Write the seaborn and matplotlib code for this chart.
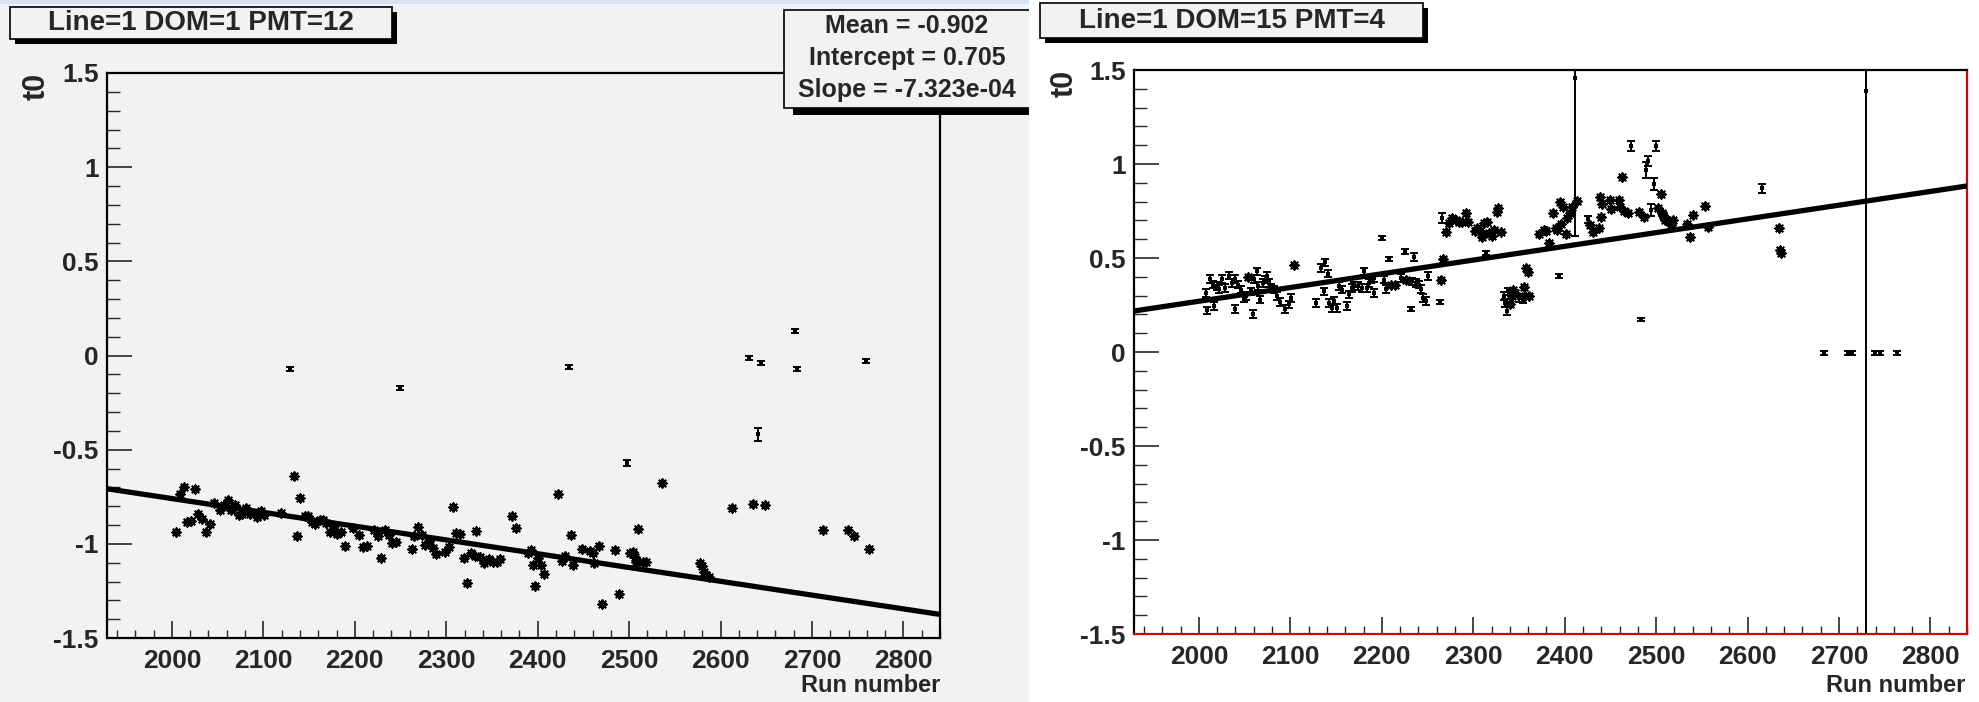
import numpy as np
import matplotlib
matplotlib.use("Agg")
import matplotlib.pyplot as plt
from matplotlib.patches import Rectangle
from matplotlib.ticker import MultipleLocator, FuncFormatter
import seaborn as sns

# ---- left panel: Line=1 DOM=1 PMT=12 ----
left_title = "Line=1 DOM=1 PMT=12"
left_star_run = [2005, 2009, 2013, 2017, 2021, 2025, 2029, 2033, 2037, 2042, 2046, 2053, 2057, 2061,
                 2065, 2069, 2073, 2077, 2081, 2085, 2093, 2097, 2101, 2119, 2133, 2137, 2140, 2145,
                 2149, 2153, 2157, 2162, 2165, 2169, 2173, 2177, 2181, 2185, 2189, 2198, 2205, 2209,
                 2213, 2221, 2225, 2229, 2233, 2237, 2241, 2245, 2263, 2265, 2269, 2273, 2277, 2281,
                 2285, 2289, 2299, 2303, 2307, 2311, 2315, 2319, 2323, 2327, 2331, 2333, 2337, 2341,
                 2347, 2351, 2355, 2359, 2372, 2376, 2389, 2393, 2395, 2397, 2400, 2404, 2407, 2422,
                 2427, 2430, 2436, 2439, 2448, 2457, 2460, 2462, 2467, 2470, 2485, 2489, 2501, 2504,
                 2506, 2508, 2510, 2515, 2518, 2536, 2578, 2580, 2582, 2584, 2587, 2613, 2635, 2649,
                 2712, 2739, 2746, 2762]
left_star_t0 = [-0.936, -0.735, -0.699, -0.885, -0.881, -0.708, -0.844, -0.866, -0.935, -0.894, -0.784,
                -0.818, -0.795, -0.768, -0.823, -0.796, -0.848, -0.841, -0.811, -0.844, -0.857, -0.825,
                -0.848, -0.834, -0.641, -0.958, -0.756, -0.850, -0.850, -0.885, -0.894, -0.871, -0.871,
                -0.888, -0.935, -0.906, -0.949, -0.936, -1.009, -0.915, -0.954, -1.016, -1.009, -0.929,
                -0.961, -1.076, -0.928, -0.952, -0.996, -0.991, -1.025, -0.956, -0.908, -0.952, -1.004,
                -0.986, -1.023, -1.053, -1.042, -1.016, -0.805, -0.943, -0.950, -1.076, -1.209, -1.051,
                -1.062, -0.933, -1.071, -1.104, -1.081, -1.094, -1.099, -1.081, -0.851, -0.917, -1.051,
                -1.034, -1.115, -1.225, -1.074, -1.115, -1.159, -0.735, -1.089, -1.065, -0.952, -1.115,
                -1.030, -1.039, -1.048, -1.101, -1.012, -1.322, -1.035, -1.264, -1.051, -1.042, -1.069,
                -1.094, -0.919, -1.094, -1.094, -0.678, -1.104, -1.119, -1.150, -1.165, -1.177, -0.812,
                -0.791, -0.795, -0.929, -0.929, -0.956, -1.030]
left_err_run = [2129, 2249, 2434, 2498, 2631, 2641, 2644, 2681, 2684, 2759]
left_err_t0 = [-0.073, -0.172, -0.062, -0.570, -0.014, -0.419, -0.041, 0.129, -0.071, -0.027]
left_err_err = [0.011, 0.011, 0.011, 0.015, 0.011, 0.033, 0.011, 0.011, 0.011, 0.011]
left_mean = -0.902
left_intercept = 0.705
left_slope = -7.323e-04

# ---- right panel: Line=1 DOM=15 PMT=4 ----
right_title = "Line=1 DOM=15 PMT=4"
right_star_run = [2054, 2104, 2210, 2214, 2227, 2265, 2267, 2270, 2273, 2277, 2281, 2284, 2288, 2292,
                  2294, 2302, 2304, 2307, 2310, 2312, 2315, 2317, 2320, 2323, 2326, 2327, 2330, 2340,
                  2342, 2344, 2346, 2355, 2357, 2358, 2360, 2361, 2372, 2377, 2380, 2383, 2387, 2391,
                  2392, 2395, 2396, 2398, 2401, 2403, 2406, 2408, 2414, 2428, 2431, 2438, 2439, 2440,
                  2441, 2450, 2451, 2459, 2461, 2463, 2465, 2469, 2481, 2487, 2502, 2505, 2506, 2508,
                  2510, 2514, 2516, 2519, 2534, 2537, 2540, 2553, 2557, 2634, 2636, 2637]
right_star_t0 = [0.398, 0.465, 0.359, 0.359, 0.385, 0.385, 0.495, 0.636, 0.686, 0.712, 0.700, 0.694,
                 0.689, 0.742, 0.689, 0.645, 0.659, 0.641, 0.611, 0.686, 0.694, 0.633, 0.615, 0.650,
                 0.747, 0.765, 0.636, 0.253, 0.297, 0.332, 0.314, 0.346, 0.297, 0.447, 0.424, 0.297,
                 0.629, 0.650, 0.641, 0.580, 0.742, 0.658, 0.650, 0.799, 0.680, 0.773, 0.627, 0.711,
                 0.737, 0.773, 0.805, 0.675, 0.640, 0.657, 0.826, 0.720, 0.787, 0.808, 0.759, 0.808,
                 0.773, 0.932, 0.750, 0.737, 0.746, 0.716, 0.764, 0.840, 0.737, 0.728, 0.702, 0.698,
                 0.675, 0.702, 0.680, 0.613, 0.728, 0.776, 0.666, 0.657, 0.542, 0.528]
right_err_run = [2008, 2009, 2012, 2015, 2017, 2020, 2022, 2025, 2028, 2033, 2036, 2039, 2040, 2043,
                 2046, 2049, 2052, 2057, 2059, 2060, 2063, 2065, 2067, 2070, 2072, 2075, 2077, 2079,
                 2082, 2085, 2089, 2094, 2099, 2101, 2128, 2133, 2137, 2138, 2141, 2142, 2145, 2148,
                 2151, 2153, 2157, 2162, 2164, 2167, 2170, 2174, 2178, 2180, 2184, 2186, 2188, 2191,
                 2192, 2200, 2202, 2205, 2208, 2221, 2225, 2232, 2233, 2235, 2237, 2241, 2243, 2245,
                 2248, 2250, 2264, 2266, 2314, 2334, 2335, 2337, 2338, 2350, 2354, 2394, 2411, 2425,
                 2472, 2483, 2489, 2491, 2494, 2498, 2500, 2616, 2684, 2710, 2714, 2730, 2739, 2745,
                 2763]
right_err_t0 = [0.314, 0.221, 0.389, 0.359, 0.244, 0.350, 0.336, 0.389, 0.341, 0.406, 0.367, 0.230,
                0.389, 0.359, 0.332, 0.288, 0.297, 0.323, 0.203, 0.389, 0.429, 0.350, 0.279, 0.367,
                0.385, 0.403, 0.367, 0.341, 0.332, 0.297, 0.265, 0.230, 0.253, 0.288, 0.261, 0.447,
                0.323, 0.477, 0.417, 0.261, 0.235, 0.270, 0.235, 0.350, 0.332, 0.244, 0.306, 0.341,
                0.350, 0.350, 0.341, 0.429, 0.341, 0.367, 0.385, 0.314, 0.394, 0.606, 0.385, 0.336,
                0.496, 0.394, 0.535, 0.230, 0.376, 0.505, 0.367, 0.359, 0.336, 0.288, 0.270, 0.403,
                0.265, 0.712, 0.527, 0.297, 0.261, 0.217, 0.323, 0.288, 0.279, 0.406, 1.455, 0.705,
                1.095, 0.173, 0.968, 1.017, 0.755, 0.893, 1.095, 0.870, -0.004, -0.004, -0.004, 1.390,
                -0.004, -0.004, -0.004]
right_err_err = [0.02] * 57 + [0.01, 0.02, 0.02, 0.01, 0.02, 0.015, 0.01, 0.02, 0.02, 0.02, 0.02,
                                0.02, 0.02, 0.02, 0.02, 0.01, 0.025, 0.01, 0.02, 0.02, 0.02, 0.02,
                                0.02, 0.02, 0.01, 0.838, 0.02, 0.025, 0.01, 0.045, 0.025, 0.03, 0.03,
                                0.025, 0.025, 0.01, 0.01, 0.01, 3.0, 0.01, 0.01, 0.01]
right_intercept = -1.19
right_slope = 7.3e-04

W, H = 1979, 702
XLIM = (1929, 2840)
YLIM = (-1.5, 1.5)
GRAY = "#f2f2f2"

sns.set_style("ticks")
plt.rcParams["font.family"] = ["Liberation Sans", "DejaVu Sans"]
plt.rcParams["font.weight"] = "bold"


def fx(x):
    return x / W


def fy(y):
    return 1 - y / H


def fig_rect(fig, x0, y0, x1, y1, z, **kw):
    r = Rectangle((fx(x0), fy(y1)), fx(x1) - fx(x0), fy(y0) - fy(y1),
                  transform=fig.transFigure, zorder=z, **kw)
    fig.add_artist(r)


def title_box(fig, x0, y0, x1, y1, text):
    fig_rect(fig, x0 + 5, y0 + 5, x1 + 5, y1 + 5, 6, facecolor="black", edgecolor="none")
    fig_rect(fig, x0, y0, x1, y1, 7, facecolor=GRAY, edgecolor="black", linewidth=1.2)
    fig.text(fx((x0 + x1) / 2), fy((y0 + y1) / 2), text, ha="center", va="center",
             fontsize=20, fontweight="bold", zorder=8)


def draw_panel(ax, star_run, star_t0, err_run, err_t0, err_err, intercept, slope):
    sns.scatterplot(x=star_run, y=star_t0, marker=(8, 2, 0), s=38, color="black",
                    linewidth=1.4, ax=ax, zorder=3)
    ax.errorbar(err_run, err_t0, yerr=err_err, fmt="none", ecolor="black",
                elinewidth=1.4, capsize=3.2, capthick=1.4, zorder=3)
    sns.scatterplot(x=err_run, y=err_t0, marker="s", s=8, color="black",
                    linewidth=0, ax=ax, zorder=3)
    fit_x = np.array(XLIM, dtype=float)
    sns.lineplot(x=fit_x, y=intercept + slope * fit_x, color="black", linewidth=3.8,
                 ax=ax, zorder=4)
    ax.set_xlim(*XLIM)
    ax.set_ylim(*YLIM)
    ax.xaxis.set_major_locator(MultipleLocator(100))
    ax.xaxis.set_minor_locator(MultipleLocator(20))
    ax.yaxis.set_major_locator(MultipleLocator(0.5))
    ax.yaxis.set_minor_locator(MultipleLocator(0.1))
    ax.yaxis.set_major_formatter(FuncFormatter(lambda v, p: "%g" % v))
    ax.tick_params(axis="x", which="major", direction="in", length=12, width=1.2,
                   labelsize=19, pad=8)
    ax.tick_params(axis="x", which="minor", direction="in", length=6, width=1.0)
    ax.tick_params(axis="y", which="major", direction="in", length=18, width=1.2,
                   labelsize=19, pad=6)
    ax.tick_params(axis="y", which="minor", direction="in", length=9, width=1.0)
    for lab in ax.get_xticklabels() + ax.get_yticklabels():
        lab.set_fontweight("bold")
    ax.set_xlabel("")
    ax.set_ylabel("")
    for s in ax.spines.values():
        s.set_visible(True)
        s.set_linewidth(1.6)
        s.set_color("black")


fig = plt.figure(figsize=(W / 100, H / 100), dpi=100)
fig.patch.set_facecolor("white")

# left pad background and screenshot strip
fig_rect(fig, 0, 0, 1029, H, -5, facecolor=GRAY, edgecolor="none")
fig_rect(fig, 0, 0, 1029, 4, -4, facecolor="#d8e3f2", edgecolor="none")

ax1 = fig.add_axes([fx(107), fy(638), fx(940) - fx(107), fy(73) - fy(638)])
ax1.set_facecolor(GRAY)
ax1.set_zorder(0)
draw_panel(ax1, left_star_run, left_star_t0, left_err_run, left_err_t0, left_err_err,
           left_intercept, left_slope)

# stats box (cut off by the right pad)
fig_rect(fig, 793, 108, 1040, 115, 1, facecolor="black", edgecolor="none")
fig_rect(fig, 784, 10, 1040, 108, 1.1, facecolor=GRAY, edgecolor="black", linewidth=1.2)
stats = ["Mean = %.3f" % left_mean, "Intercept = %.3f" % left_intercept,
         "Slope = %.3e" % left_slope]
for i, line in enumerate(stats):
    fig.text(fx(907), fy(26 + 32 * i), line, ha="center", va="center", fontsize=18,
             fontweight="bold", zorder=1.2)

# right pad
fig_rect(fig, 1029, 0, W, H, 2, facecolor="white", edgecolor="none")
ax2 = fig.add_axes([fx(1134), fy(634), fx(1967) - fx(1134), fy(70) - fy(634)])
ax2.set_facecolor("white")
ax2.set_zorder(3)
draw_panel(ax2, right_star_run, right_star_t0, right_err_run, right_err_t0, right_err_err,
           right_intercept, right_slope)
ax2.spines["bottom"].set_color("#d40000")
ax2.spines["right"].set_color("#d40000")

title_box(fig, 10, 7, 392, 39, left_title)
title_box(fig, 1040, 3, 1423, 38, right_title)

for x_t0, y_t0 in [(37, 86), (1065, 83)]:
    fig.text(fx(x_t0), fy(y_t0), "t0", rotation=90, ha="center", va="center",
             fontsize=22, fontweight="bold", zorder=8)
for x_rn in [940, 1965]:
    fig.text(fx(x_rn), fy(686), "Run number", ha="right", va="center",
             fontsize=17, fontweight="bold", zorder=8)

fig.savefig("out.png", dpi=100)
